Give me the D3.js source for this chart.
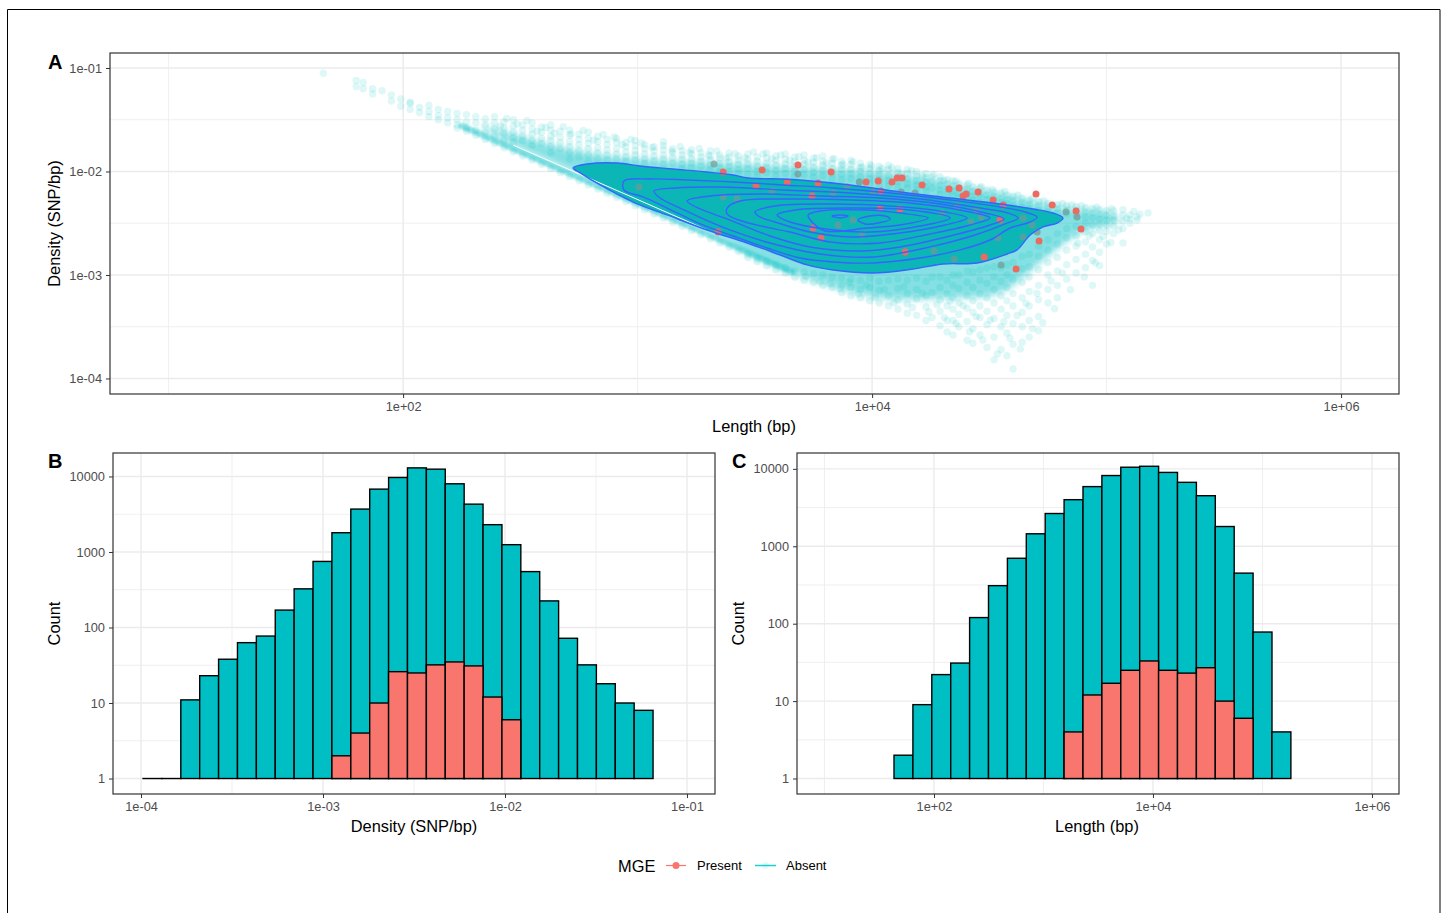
<!DOCTYPE html>
<html>
<head>
<meta charset="utf-8">
<script src="https://cdn.jsdelivr.net/npm/d3@7"></script>
<style>
  body { margin: 0; background: #fff; }
  text { font-family: "Liberation Sans", Arial, sans-serif; }
</style>
</head>
<body>
<div id="chart"></div>
<script>
// all scatter and contour values are log10(length), log10(density)
const cloudColumns = [
  [1.66,[-1.05]],[1.8,[-1.12,-1.18]],[1.83,[-1.14,-1.2]],[1.87,[-1.2,-1.25]],[1.91,[-1.22]],[1.95,[-1.26,-1.32]],
  [1.99,[-1.3,-1.37]],[2.03,[-1.34,-1.4,-1.33]],[2.07,[-1.38,-1.43]],[2.11,[-1.36,-1.42,-1.47]],[2.15,[-1.4,-1.46,-1.5]],
  [2.19,[-1.42,-1.48,-1.53]],[2.23,[-1.44,-1.5,-1.55,-1.58]],[2.27,[-1.45,-1.52,-1.58,-1.61]],[2.31,[-1.47,-1.53,-1.6,-1.65]],
  [2.35,[-1.49,-1.55,-1.62,-1.69]],[2.39,[-1.47,-1.53,-1.59,-1.66,-1.73]],[2.43,[-1.52,-1.58,-1.63,-1.7,-1.77]],
  [2.47,[-1.5,-1.56,-1.62,-1.67,-1.72,-1.81]],[2.51,[-1.55,-1.6,-1.66,-1.7,-1.85]],[2.55,[-1.53,-1.59,-1.64,-1.7,-1.75,-1.89]],
  [2.59,[-1.57,-1.62,-1.68,-1.73,-1.93]],[2.63,[-1.55,-1.6,-1.66,-1.7,-1.76,-1.82,-1.97]],[2.67,[-1.61,-1.67,-1.72,-1.78,-2.01]],
  [2.71,[-1.6,-1.65,-1.71,-1.76,-1.82,-1.88,-2.05]],[2.75,[-1.64,-1.69,-1.74,-1.8,-1.86,-2.09]],[2.79,[-1.62,-1.68,-1.73,-1.78,-1.84,-1.9,-2.13]],
  [2.83,[-1.66,-1.71,-1.77,-1.82,-1.88,-2.17]],[2.87,[-1.69,-1.74,-1.79,-1.84,-1.89,-2.21]],[2.91,[-1.68,-1.72,-1.78,-1.83,-1.88,-2.25]],
  [2.95,[-1.72,-1.76,-1.81,-1.86,-1.9,-2.29]],[2.99,[-1.7,-1.75,-1.8,-1.84,-1.89,-2.33]],[3.03,[-1.74,-1.78,-1.83,-1.88,-1.92,-2.37]],
  [3.07,[-1.76,-1.8,-1.85,-1.9,-2.41]],[3.11,[-1.75,-1.79,-1.84,-1.88,-1.93,-2.45]],[3.15,[-1.78,-1.82,-1.87,-1.92,-2.49]],
  [3.19,[-1.8,-1.84,-1.88,-1.93,-1.97,-2.53]],[3.23,[-1.79,-1.83,-1.88,-1.92,-1.96,-2.57]],[3.27,[-1.82,-1.86,-1.9,-1.95,-2.61]],
  [3.31,[-1.8,-1.85,-1.89,-1.94,-1.98,-2.65]],[3.35,[-1.84,-1.87,-1.92,-1.96,-2.0,-2.69]],[3.39,[-1.82,-1.86,-1.91,-1.95,-2.0,-2.73]],
  [3.43,[-1.85,-1.89,-1.93,-1.98,-2.02,-2.77]],[3.47,[-1.83,-1.88,-1.93,-1.97,-2.03,-2.8,-2.83]],[3.51,[-1.86,-1.9,-1.95,-2.0,-2.04,-2.84,-2.87]],
  [3.55,[-1.82,-1.87,-1.92,-1.96,-2.01,-2.87,-2.91]],[3.59,[-1.85,-1.89,-1.94,-1.99,-2.04,-2.9,-2.95]],[3.63,[-1.83,-1.88,-1.93,-1.97,-2.02,-2.93,-2.98]],
  [3.67,[-1.86,-1.9,-1.95,-2.0,-2.05,-2.96,-3.02]],[3.71,[-1.84,-1.89,-1.93,-1.98,-2.03,-2.97,-3.05]],[3.75,[-1.87,-1.91,-1.96,-2.01,-2.05,-2.99,-3.07]],
  [3.79,[-1.85,-1.9,-1.94,-1.99,-2.04,-3.0,-3.1]],[3.83,[-1.88,-1.92,-1.97,-2.02,-2.07,-3.02,-3.12]],[3.87,[-1.9,-1.94,-1.98,-2.03,-2.08,-3.03,-3.1,-3.17]],
  [3.91,[-1.89,-1.93,-1.98,-2.02,-2.07,-3.04,-3.12,-3.2]],[3.95,[-1.92,-1.96,-2.0,-2.05,-2.1,-3.05,-3.14,-3.22]],[3.99,[-1.93,-1.97,-2.02,-2.07,-2.11,-3.03,-3.12,-3.25]],
  [4.03,[-1.95,-1.99,-2.03,-2.08,-2.13,-3.06,-3.15,-3.27]],[4.07,[-1.94,-1.98,-2.04,-2.09,-2.14,-3.05,-3.2,-3.3]],[4.11,[-1.97,-2.01,-2.05,-2.1,-2.15,-3.04,-3.13,-3.24,-3.33]],
  [4.15,[-1.98,-2.02,-2.07,-2.12,-2.16,-3.05,-3.18,-3.28,-3.37]],[4.19,[-2.0,-2.04,-2.09,-2.13,-2.18,-3.03,-3.14,-3.23,-3.39]],[4.23,[-2.02,-2.06,-2.1,-2.15,-2.19,-3.06,-3.2,-3.31,-3.44]],
  [4.256,[-2.05,-2.1,-2.16,-3.02,-3.17,-3.41]],[4.29,[-2.05,-2.09,-2.13,-2.18,-2.22,-3.02,-3.12,-3.24,-3.35,-3.49]],[4.32,[-2.08,-2.12,-2.17,-2.22,-3.05,-3.18,-3.3,-3.44,-3.55]],
  [4.345,[-2.09,-2.14,-2.19,-2.23,-3.0,-3.1,-3.22,-3.33,-3.44,-3.58]],[4.37,[-2.12,-2.16,-2.21,-2.25,-3.0,-3.13,-3.27,-3.38,-3.5]],[4.405,[-2.13,-2.17,-2.22,-2.27,-2.96,-3.07,-3.2,-3.32,-3.45,-3.63]],
  [4.43,[-2.15,-2.19,-2.24,-2.28,-2.97,-3.12,-3.25,-3.36,-3.52,-3.66]],[4.46,[-2.16,-2.21,-2.25,-2.3,-2.95,-3.05,-3.18,-3.3,-3.41,-3.58]],[4.49,[-2.18,-2.23,-2.27,-2.32,-2.93,-3.08,-3.22,-3.35,-3.48,-3.7]],
  [4.52,[-2.2,-2.24,-2.28,-2.33,-2.92,-3.02,-3.14,-3.27,-3.42,-3.6,-3.82]],[4.55,[-2.21,-2.26,-2.3,-2.35,-2.93,-3.06,-3.2,-3.33,-3.5,-3.72]],[4.575,[-2.23,-2.27,-2.31,-2.36,-2.9,-3.0,-3.12,-3.25,-3.39,-3.56,-3.78]],
  [4.601,[-2.24,-2.28,-2.33,-2.37,-2.88,-3.04,-3.18,-3.3,-3.47,-3.67,-3.908]],[4.64,[-2.26,-2.3,-2.34,-2.38,-2.82,-2.94,-3.07,-3.22,-3.36,-3.5,-3.65]],[4.67,[-2.28,-2.32,-2.36,-2.8,-2.92,-3.02,-3.16,-3.3,-3.44,-3.6]],
  [4.71,[-2.29,-2.33,-2.38,-2.72,-2.82,-2.95,-3.1,-3.24,-3.4,-3.54]],[4.75,[-2.31,-2.35,-2.39,-2.66,-2.76,-2.88,-3.0,-3.14,-3.27]],[4.79,[-2.32,-2.36,-2.4,-2.6,-2.7,-2.83,-2.96,-3.1,-3.22]],
  [4.83,[-2.33,-2.37,-2.41,-2.55,-2.64,-2.76,-2.9,-3.04]],[4.87,[-2.34,-2.38,-2.42,-2.53,-2.62,-2.72,-2.85,-2.98]],[4.91,[-2.35,-2.39,-2.44,-2.5,-2.58,-2.68,-2.8,-2.93]],
  [4.94,[-2.36,-2.4,-2.45,-2.52,-2.6,-2.73,-2.86,-3.1]],[4.97,[-2.37,-2.41,-2.46,-2.51,-2.57,-2.66,-2.78,-2.91]],[5.0,[-2.38,-2.42,-2.47,-2.52,-2.58,-2.7]],
  [5.03,[-2.38,-2.43,-2.47,-2.53,-2.6]],[5.07,[-2.37,-2.42,-2.48,-2.55,-2.69]],[5.1,[-2.42,-2.46,-2.5]],[5.13,[-2.44,-2.47]],[5.177,[-2.4]]
];

// looser points around the cloud edge
const cloudExtra = [[2.414,-1.563],[2.442,-1.487],[2.486,-1.541],[2.528,-1.508],[2.572,-1.612],[2.608,-1.574],[2.646,-1.631],[2.683,-1.566],[2.716,-1.636],[2.768,-1.603],[2.813,-1.697],[2.853,-1.642],[2.9,-1.667],[2.934,-1.739],[2.972,-1.691],[3.018,-1.724],[3.062,-1.768],[3.11,-1.712],[3.146,-1.803],[3.182,-1.758],[3.222,-1.816],[3.263,-1.778],[3.302,-1.841],[3.338,-1.802],[3.377,-1.873],[3.416,-1.829],[3.458,-1.867],[3.494,-1.812],[3.535,-1.83],[3.572,-1.877],[3.61,-1.841],[3.648,-1.893],[3.688,-1.854],[3.726,-1.909],[3.763,-1.867],[3.804,-1.918],[3.838,-1.876],[3.876,-1.928],[3.918,-1.907],[3.958,-1.957],[3.997,-1.944],[4.042,-1.971],[4.084,-1.962],[4.126,-2.023],[4.168,-1.993],[4.214,-2.044],[4.262,-2.028],[4.306,-2.087],[4.357,-2.094],[4.412,-2.112],[4.466,-2.148],[4.514,-2.175],[4.566,-2.194],[4.622,-2.228],[4.683,-2.262],[4.733,-2.284],[4.812,-2.308],[4.852,-2.322],[4.893,-2.331],[4.958,-2.346],[5.022,-2.358],[3.716,-3.012],[3.778,-3.064],[3.822,-3.085],[3.864,-3.134],[3.903,-3.07],[3.942,-3.182],[3.975,-3.098],[4.014,-3.214],[4.052,-3.141],[4.093,-3.268],[4.136,-3.112],[4.172,-3.316],[4.214,-3.176],[4.242,-3.358],[4.276,-3.286],[4.308,-3.412],[4.333,-3.252],[4.358,-3.468],[4.388,-3.296],[4.416,-3.548],[4.444,-3.402],[4.472,-3.628],[4.504,-3.436],[4.534,-3.764],[4.562,-3.452],[4.588,-3.612],[4.618,-3.392],[4.632,-3.716],[4.656,-3.274],[4.684,-3.518],[4.703,-3.177],[4.728,-3.462],[4.763,-3.058],[4.778,-3.326],[4.812,-2.982],[4.846,-3.142],[4.878,-2.692],[4.905,-3.02],[4.926,-2.624],[4.952,-2.882],[4.985,-2.628],[5.018,-2.686],[5.052,-2.566],[5.085,-2.452],[5.116,-2.386],[5.142,-2.412]];

const contourLevels = [
  [[2.725,-1.966],[2.785,-1.928],[2.913,-1.918],[3.011,-1.947],[3.151,-1.976],[3.296,-2.005],[3.407,-2.034],[3.471,-2.063],[3.62,-2.072],[3.693,-2.082],[3.906,-2.13],[4.119,-2.198],[4.333,-2.256],[4.546,-2.314],[4.687,-2.362],[4.772,-2.401],[4.814,-2.449],[4.789,-2.498],[4.729,-2.536],[4.674,-2.614],[4.618,-2.758],[4.576,-2.797],[4.448,-2.884],[4.303,-2.894],[4.175,-2.942],[4.004,-2.981],[3.834,-2.952],[3.723,-2.903],[3.608,-2.807],[3.467,-2.691],[3.296,-2.565],[3.126,-2.42],[2.981,-2.295],[2.84,-2.13],[2.755,-2.014]],
  [[2.942,-2.092],[3.053,-2.072],[3.211,-2.082],[3.407,-2.101],[3.62,-2.13],[3.834,-2.159],[4.119,-2.217],[4.333,-2.275],[4.546,-2.343],[4.652,-2.391],[4.704,-2.44],[4.674,-2.488],[4.589,-2.546],[4.503,-2.662],[4.375,-2.758],[4.205,-2.836],[4.004,-2.884],[3.834,-2.874],[3.693,-2.836],[3.552,-2.739],[3.407,-2.623],[3.267,-2.507],[3.126,-2.353],[3.023,-2.246],[2.942,-2.179]],
  [[3.07,-2.188],[3.16,-2.159],[3.352,-2.15],[3.62,-2.179],[3.906,-2.208],[4.205,-2.266],[4.461,-2.353],[4.58,-2.401],[4.623,-2.449],[4.567,-2.507],[4.439,-2.614],[4.247,-2.729],[4.004,-2.826],[3.778,-2.797],[3.565,-2.691],[3.352,-2.527],[3.181,-2.353],[3.096,-2.256]],
  [[3.211,-2.285],[3.309,-2.237],[3.523,-2.217],[3.778,-2.237],[4.034,-2.256],[4.29,-2.314],[4.482,-2.401],[4.563,-2.459],[4.503,-2.517],[4.333,-2.623],[4.119,-2.729],[3.949,-2.768],[3.736,-2.729],[3.565,-2.623],[3.394,-2.469],[3.267,-2.362]],
  [[3.382,-2.353],[3.437,-2.285],[3.65,-2.266],[3.906,-2.275],[4.162,-2.304],[4.397,-2.382],[4.503,-2.449],[4.418,-2.517],[4.247,-2.604],[4.034,-2.691],[3.821,-2.681],[3.65,-2.585],[3.458,-2.488],[3.382,-2.411]],
  [[3.501,-2.391],[3.586,-2.333],[3.821,-2.314],[4.077,-2.333],[4.311,-2.391],[4.405,-2.449],[4.311,-2.517],[4.119,-2.594],[3.906,-2.633],[3.736,-2.585],[3.586,-2.488],[3.514,-2.43]],
  [[3.595,-2.42],[3.672,-2.372],[3.906,-2.353],[4.162,-2.372],[4.333,-2.449],[4.205,-2.527],[3.991,-2.585],[3.8,-2.556],[3.65,-2.488]],
  [[3.727,-2.42],[3.778,-2.382],[3.979,-2.372],[4.119,-2.401],[4.239,-2.449],[4.119,-2.517],[3.979,-2.546],[3.8,-2.575],[3.744,-2.488]],
  [[3.829,-2.43],[3.864,-2.42],[3.898,-2.43],[3.864,-2.449]],
  [[3.94,-2.469],[3.991,-2.43],[4.055,-2.43],[4.077,-2.459],[4.026,-2.498],[3.97,-2.507]]
];

// thicker parts of the cloud around the outer contour
const haloOutline = [[2.33,-1.57],[2.47,-1.64],[2.584,-1.716],[2.84,-1.841],[3.267,-1.909],[3.693,-1.957],[4.119,-2.025],[4.546,-2.218],[4.802,-2.344],[5.015,-2.411],[5.059,-2.469],[4.887,-2.594],[4.716,-2.883],[4.546,-3.173],[4.333,-3.222],[4.034,-3.222],[3.778,-3.077],[3.522,-2.854],[3.296,-2.565],[3.011,-2.29],[2.755,-2.03],[2.47,-1.744]];
const bandLine = [[2.25,-1.56],[2.8,-2.11],[3.3,-2.61],[3.66,-2.97]];
const gapLine = [[2.469,-1.744],[3.296,-2.565]];

const presentPoints = [[3.365,-2.005],[3.531,-1.986],[3.684,-1.937],[3.825,-2.005],[3.638,-2.101],[3.505,-2.14],[3.77,-2.111],[3.744,-2.237],[3.748,-2.546],[3.782,-2.643],[3.974,-2.101],[4.026,-2.092],[4.085,-2.101],[4.107,-2.063],[4.128,-2.063],[4.213,-2.13],[4.328,-2.169],[4.371,-2.159],[4.388,-2.237],[4.401,-2.217],[4.452,-2.198],[4.516,-2.275],[4.559,-2.324],[4.699,-2.217],[4.768,-2.324],[4.87,-2.382],[4.891,-2.556],[4.712,-2.671],[4.546,-2.469],[4.478,-2.826],[4.614,-2.942],[4.141,-2.778],[4.038,-2.188],[4.119,-2.362],[4.034,-2.353],[3.343,-2.585]];
const presentBuried = [[3.326,-1.928],[3.684,-2.024],[3.945,-2.101],[4.827,-2.391],[4.874,-2.44],[4.704,-2.585],[4.682,-2.517],[4.644,-2.449],[4.644,-2.633],[4.537,-2.643],[4.55,-2.903],[4.35,-2.845],[4.264,-2.768],[4.422,-2.488],[4.465,-2.44],[4.183,-2.208],[4.124,-2.198],[4.299,-2.401],[4.362,-2.333],[4.443,-2.372],[3.957,-2.614],[3.919,-2.469],[4.004,-2.198],[3.893,-2.15],[3.834,-2.208],[3.424,-2.266],[3.365,-2.246],[3.006,-2.15],[3.855,-2.517],[3.574,-2.188]];

const densityBinStart = -3.989, densityBinWidth = 0.1038;
const densityAbsent = [1,1,11,23,38,63,77,170,325,750,1800,3700,6800,9700,13000,12500,8000,4300,2300,1250,550,225,72,32,18,10,8];
const densityPresent = [0,0,0,0,0,0,0,0,0,0,2,4,10,26,25,32,35,31,12,6,0,0,0,0,0,0,0];

const lengthBinStart = 1.635, lengthBinWidth = 0.1726;
const lengthAbsent = [2,9,22,31,120,310,700,1450,2650,4000,5900,8200,10500,10800,9000,6700,4500,1800,450,78,4];
const lengthPresent = [0,0,0,0,0,0,0,0,0,4,12,17,25,33,25,23,27,10,6,0,0];

const scatterXTicks = [100, 10000, 1000000], scatterXMinor = [10, 1000, 100000];
const scatterYTicks = [1e-1, 1e-2, 1e-3, 1e-4];
const scatterYMinor = [10 ** -1.5, 10 ** -2.5, 10 ** -3.5];
const densityXTicks = [1e-4, 1e-3, 1e-2, 1e-1];
const densityXMinor = [10 ** -3.5, 10 ** -2.5, 10 ** -1.5];
const lengthXTicks = [100, 10000, 1000000], lengthXMinor = [10, 1000, 100000];
const countTicks = [1, 10, 100, 1000, 10000];
const countMinor = [10 ** 0.5, 10 ** 1.5, 10 ** 2.5, 10 ** 3.5];

const expLabel = v => {
  const e = Math.round(Math.log10(v));
  return `1e${e < 0 ? "-" : "+"}${String(Math.abs(e)).padStart(2, "0")}`;
};

const teal = "#00BFC4", red = "#F8766D", blue = "#3366FF";

const svg = d3.select("#chart").append("svg").attr("width", 1444).attr("height", 913);
svg.append("rect").attr("width", 1444).attr("height", 913).attr("fill", "#fff");
svg.append("path").attr("d", "M7.5,913V9.5H1440V913").attr("fill", "none").attr("stroke", "#000");
const defs = svg.append("defs");
defs.append("filter").attr("id", "soft")
  .attr("x", "-10%").attr("y", "-30%").attr("width", "120%").attr("height", "160%")
  .append("feGaussianBlur").attr("stdDeviation", 3.5);
defs.append("filter").attr("id", "softer")
  .attr("x", "-5%").attr("y", "-5%").attr("width", "110%").attr("height", "110%")
  .append("feGaussianBlur").attr("stdDeviation", 0.9);

let clipId = 0;
function panel(box, xDomain, yDomain, xTicks, xMinor, yTicks, yMinor, xFmt, yFmt) {
  const x = d3.scaleLog().domain(xDomain).range([box.left, box.right]);
  const y = d3.scaleLog().domain(yDomain).range([box.bottom, box.top]);
  const grid = svg.append("g");
  const addGrid = (vals, vertical, w) => grid.selectAll(null).data(vals).enter().append("line")
    .attr("x1", d => vertical ? x(d) : box.left).attr("x2", d => vertical ? x(d) : box.right)
    .attr("y1", d => vertical ? box.top : y(d)).attr("y2", d => vertical ? box.bottom : y(d))
    .attr("stroke", "#ebebeb").attr("stroke-width", w);
  addGrid(xMinor, true, 0.8);
  addGrid(yMinor, false, 0.8);
  addGrid(xTicks, true, 1.4);
  addGrid(yTicks, false, 1.4);

  const id = "clip" + (clipId++);
  svg.append("clipPath").attr("id", id).append("rect")
    .attr("x", box.left).attr("y", box.top)
    .attr("width", box.right - box.left).attr("height", box.bottom - box.top);
  const marks = svg.append("g").attr("clip-path", `url(#${id})`);

  const frame = svg.append("g");
  const xAxis = frame.append("g").attr("transform", `translate(0,${box.bottom})`)
    .call(d3.axisBottom(x).tickValues(xTicks).tickFormat(xFmt).tickSize(4).tickPadding(4));
  const yAxis = frame.append("g").attr("transform", `translate(${box.left},0)`)
    .call(d3.axisLeft(y).tickValues(yTicks).tickFormat(yFmt).tickSize(4).tickPadding(4));
  [xAxis, yAxis].forEach(a => {
    a.select(".domain").remove();
    a.selectAll("line").attr("stroke", "#333").attr("stroke-width", 1);
    a.selectAll("text").attr("fill", "#4d4d4d").style("font-size", "12.8px").style("font-family", '"Liberation Sans", Arial, sans-serif');
  });
  frame.append("rect").attr("x", box.left).attr("y", box.top)
    .attr("width", box.right - box.left).attr("height", box.bottom - box.top)
    .attr("fill", "none").attr("stroke", "#333").attr("stroke-width", 1.2);
  return { x, y, marks };
}

function title(txt, px, py, rotate) {
  svg.append("text").attr("transform", `translate(${px},${py})${rotate ? " rotate(-90)" : ""}`)
    .attr("text-anchor", "middle").attr("fill", "#000").style("font-size", "16.4px").text(txt);
}
function tag(txt, px, py) {
  svg.append("text").attr("x", px).attr("y", py).attr("fill", "#000")
    .style("font-size", "20px").style("font-weight", "bold").text(txt);
}

// panel A
const a = panel({ left: 110, right: 1399, top: 53, bottom: 394 },
  [10 ** 0.75, 10 ** 6.247], [10 ** -4.15, 10 ** -0.855],
  scatterXTicks, scatterXMinor, scatterYTicks, scatterYMinor, expLabel, expLabel);
const ax = v => a.x(10 ** v), ay = v => a.y(10 ** v);
const openLine = d3.line().x(d => ax(d[0])).y(d => ay(d[1]));
const closedLine = d3.line().x(d => ax(d[0])).y(d => ay(d[1])).curve(d3.curveCatmullRomClosed.alpha(0.5));

a.marks.append("path").attr("d", closedLine(haloOutline)).attr("fill", teal).attr("opacity", 0.48)
  .attr("filter", "url(#soft)");
a.marks.append("path").attr("d", openLine(bandLine)).attr("fill", "none").attr("stroke", teal)
  .attr("stroke-width", 6).attr("stroke-linecap", "round").attr("opacity", 0.45)
  .attr("filter", "url(#softer)");

const cloudPoints = cloudColumns.flatMap(([len, ds]) => ds.map(d => [len, d])).concat(cloudExtra);
a.marks.selectAll("circle.cloud").data(cloudPoints).enter().append("circle").attr("class", "cloud")
  .attr("cx", d => ax(d[0])).attr("cy", d => ay(d[1])).attr("r", 3.7)
  .attr("fill", teal).attr("opacity", 0.13);

a.marks.append("path").attr("d", closedLine(contourLevels[0])).attr("fill", "#0CB5B6");
a.marks.append("path").attr("d", openLine(gapLine))
  .attr("stroke", "#fff").attr("stroke-width", 1).attr("fill", "none");

a.marks.selectAll("circle.buried").data(presentBuried).enter().append("circle").attr("class", "buried")
  .attr("cx", d => ax(d[0])).attr("cy", d => ay(d[1])).attr("r", 3.5)
  .attr("fill", "#6f9a96").attr("opacity", 0.7);
a.marks.selectAll("circle.present").data(presentPoints).enter().append("circle").attr("class", "present")
  .attr("cx", d => ax(d[0])).attr("cy", d => ay(d[1])).attr("r", 3.5)
  .attr("fill", "#EC6B61");

a.marks.selectAll("path.contour").data(contourLevels).enter().append("path").attr("class", "contour")
  .attr("d", closedLine).attr("fill", "none").attr("stroke", blue).attr("stroke-width", 1.4);

title("Length (bp)", 754, 432);
title("Density (SNP/bp)", 60, 223.5, true);
tag("A", 48, 69);

// panels B and C
function histogram(box, xDomain, yDomain, xTicks, xMinor, start, width, absent, present) {
  const p = panel(box, xDomain, yDomain, xTicks, xMinor, countTicks, countMinor, expLabel, d => d3.format("d")(d));
  const bars = (vals, color) => p.marks.selectAll(null)
    .data(vals.map((v, i) => ({ v, i })).filter(d => d.v > 0)).enter().append("rect")
    .attr("x", d => p.x(10 ** (start + d.i * width)))
    .attr("width", d => p.x(10 ** (start + (d.i + 1) * width)) - p.x(10 ** (start + d.i * width)))
    .attr("y", d => p.y(d.v))
    .attr("height", d => Math.max(p.y(1) - p.y(d.v), 0.01))
    .attr("fill", color).attr("stroke", "#000").attr("stroke-width", 1.4);
  bars(absent, teal);
  bars(present, red);
}

histogram({ left: 113, right: 715, top: 453, bottom: 794 },
  [10 ** -4.154, 10 ** -0.846], [10 ** -0.205, 10 ** 4.311],
  densityXTicks, densityXMinor, densityBinStart, densityBinWidth, densityAbsent, densityPresent);
title("Density (SNP/bp)", 414, 832);
title("Count", 60, 623.5, true);
tag("B", 48, 468);

histogram({ left: 797, right: 1399, top: 453, bottom: 794 },
  [10 ** 0.749, 10 ** 6.247], [10 ** -0.2, 10 ** 4.205],
  lengthXTicks, lengthXMinor, lengthBinStart, lengthBinWidth, lengthAbsent, lengthPresent);
title("Length (bp)", 1097, 832);
title("Count", 744, 623.5, true);
tag("C", 732, 468);

// legend
const legend = svg.append("g");
legend.append("text").attr("x", 618).attr("y", 871.5).style("font-size", "16.4px").attr("fill", "#000").text("MGE");
legend.append("line").attr("x1", 666).attr("x2", 686).attr("y1", 865.5).attr("y2", 865.5).attr("stroke", red).attr("stroke-width", 1.2);
legend.append("circle").attr("cx", 676).attr("cy", 865.5).attr("r", 3.5).attr("fill", red);
legend.append("text").attr("x", 697).attr("y", 869.5).style("font-size", "13px").attr("fill", "#000").text("Present");
legend.append("circle").attr("cx", 765.5).attr("cy", 865.5).attr("r", 3.5).attr("fill", teal).attr("opacity", 0.1);
legend.append("line").attr("x1", 755).attr("x2", 776).attr("y1", 865.5).attr("y2", 865.5).attr("stroke", "#1CCDD2").attr("stroke-width", 1.5);
legend.append("text").attr("x", 786).attr("y", 869.5).style("font-size", "13px").attr("fill", "#000").text("Absent");
</script>
</body>
</html>
